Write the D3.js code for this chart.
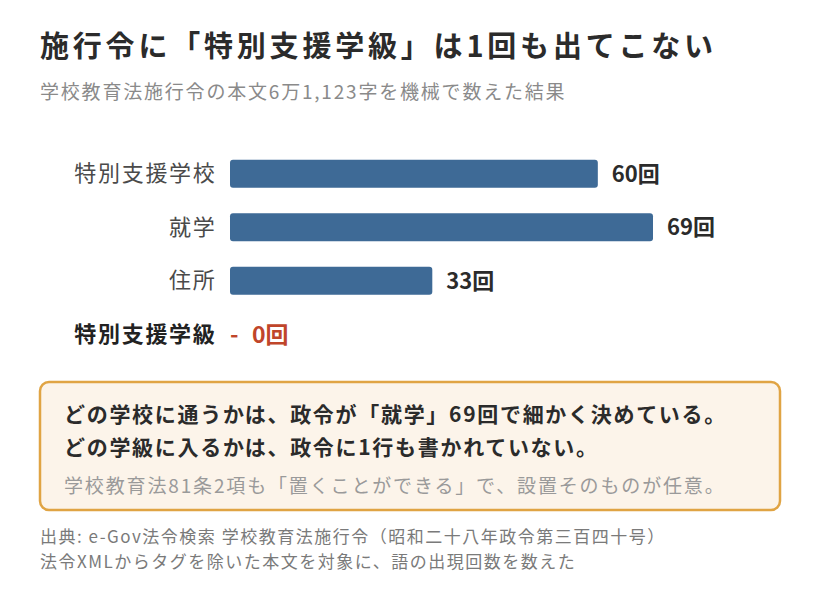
<!DOCTYPE html>
<html><head><meta charset="utf-8">
<script src="https://cdn.jsdelivr.net/npm/d3@7"></script>
<style>
html,body{margin:0;padding:0;background:#fff;}
svg{display:block;font-family:"Noto Sans CJK JP","Noto Sans",sans-serif;}
</style></head>
<body><svg id="c" width="820" height="596"></svg>
<script>
const categories = ["特別支援学校", "就学", "住所", "特別支援学級"];
const counts = [60, 69, 33, 0];
const unit = "回";
const title = "施行令に「特別支援学級」は1回も出てこない";
const subtitle = "学校教育法施行令の本文6万1,123字を機械で数えた結果";
const noteLines = ["どの学校に通うかは、政令が「就学」69回で細かく決めている。", "どの学級に入るかは、政令に1行も書かれていない。"];
const noteSub = "学校教育法81条2項も「置くことができる」で、設置そのものが任意。";
const sources = ["出典: e-Gov法令検索 学校教育法施行令（昭和二十八年政令第三百四十号）", "法令XMLからタグを除いた本文を対象に、語の出現回数を数えた"];

const svg = d3.select("#c");

svg.append("text").attr("x", 40).attr("y", 57).attr("font-size", 29).attr("font-weight", 700)
  .attr("letter-spacing", 3.8).attr("fill", "#2b2b2b").text(title);
svg.append("text").attr("x", 40).attr("y", 99).attr("font-size", 19).attr("letter-spacing", 1.8)
  .attr("fill", "#8a8a8a").text(subtitle);

const x = d3.scaleLinear().domain([0, d3.max(counts)]).range([230, 653]);
const y = d3.scaleBand().domain(categories).range([147, 361]).paddingInner(0.48).paddingOuter(0.24);

const data = categories.map((c, i) => ({c, v: counts[i], highlight: counts[i] === 0}));

const g = svg.append("g");
g.selectAll("text.cat").data(data).join("text").attr("class", "cat")
  .attr("x", 216.5).attr("y", d => y(d.c) + y.bandwidth() / 2)
  .attr("dy", "0.35em").attr("text-anchor", "end")
  .attr("font-size", 22).attr("letter-spacing", 1.7).attr("font-weight", d => d.highlight ? 700 : 400)
  .attr("fill", d => d.highlight ? "#222" : "#4a4a4a").text(d => d.c);

g.selectAll("rect.bar").data(data.filter(d => d.v > 0)).join("rect").attr("class", "bar")
  .attr("x", x(0)).attr("y", d => y(d.c)).attr("width", d => x(d.v) - x(0))
  .attr("height", y.bandwidth()).attr("rx", 3).attr("fill", "#3e6a96");

g.selectAll("text.val").data(data.filter(d => d.v > 0)).join("text").attr("class", "val")
  .attr("x", d => x(d.v) + 14).attr("y", d => y(d.c) + y.bandwidth() / 2)
  .attr("dy", "0.36em").attr("font-size", 22).attr("font-weight", 700)
  .attr("fill", "#2b2b2b").text(d => d.v + unit);

const zero = data.filter(d => d.v === 0);
g.selectAll("text.zdash").data(zero).join("text").attr("class", "zdash")
  .attr("x", x(0)).attr("y", d => y(d.c) + y.bandwidth() / 2)
  .attr("dy", "0.36em").attr("font-size", 23).attr("font-weight", 700)
  .attr("fill", "#c0452a").text("-");
g.selectAll("text.zero").data(zero).join("text").attr("class", "zero")
  .attr("x", x(0) + 22).attr("y", d => y(d.c) + y.bandwidth() / 2)
  .attr("dy", "0.36em").attr("font-size", 23).attr("font-weight", 700)
  .attr("fill", "#c0452a").text(d => d.v + unit);

// note box
svg.append("rect").attr("x", 40).attr("y", 382).attr("width", 740).attr("height", 128)
  .attr("rx", 9).attr("fill", "#fcf4ea").attr("stroke", "#e0a444").attr("stroke-width", 2.5);
noteLines.forEach((t, i) => {
  svg.append("text").attr("x", 64).attr("y", 422 + i * 33).attr("font-size", 21).attr("font-weight", 700)
    .attr("letter-spacing", 1.7).attr("fill", "#2b2b2b").text(t);
});
svg.append("text").attr("x", 64).attr("y", 493).attr("font-size", 19).attr("letter-spacing", 1.85)
  .attr("fill", "#9a9a9a").text(noteSub);

sources.forEach((t, i) => {
  svg.append("text").attr("x", 40).attr("y", 543 + i * 25).attr("font-size", 17).attr("letter-spacing", 1.5)
    .attr("fill", "#7a7a7a").text(t);
});
</script></body></html>
